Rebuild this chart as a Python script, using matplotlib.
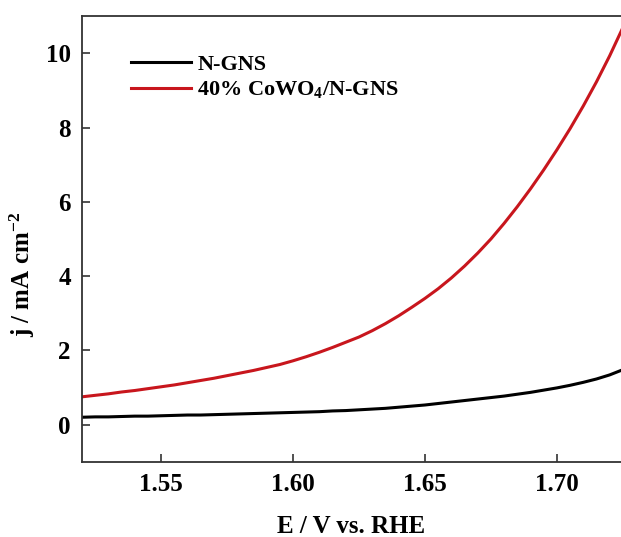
import numpy as np
import matplotlib
matplotlib.use("Agg")
import matplotlib.pyplot as plt

plt.rcParams['font.family'] = ['Liberation Serif', 'DejaVu Serif']
plt.rcParams['font.weight'] = 'bold'
plt.rcParams['mathtext.fontset'] = 'custom'
plt.rcParams['mathtext.rm'] = 'Liberation Serif:bold'
plt.rcParams['mathtext.it'] = 'Liberation Serif:bold'
plt.rcParams['mathtext.bf'] = 'Liberation Serif:bold'

# potential (V vs. RHE)
E = [1.520, 1.525, 1.530, 1.535, 1.540, 1.545, 1.550, 1.555, 1.560, 1.565,
     1.570, 1.575, 1.580, 1.585, 1.590, 1.595, 1.600, 1.605, 1.610, 1.615,
     1.620, 1.625, 1.630, 1.635, 1.640, 1.645, 1.650, 1.655, 1.660, 1.665,
     1.670, 1.675, 1.680, 1.685, 1.690, 1.695, 1.700, 1.705, 1.710, 1.715,
     1.720, 1.725]

# current density (mA cm-2)
j_ngns = [0.20, 0.21, 0.21, 0.22, 0.23, 0.23, 0.24, 0.25, 0.26, 0.26,
          0.27, 0.28, 0.29, 0.30, 0.31, 0.32, 0.33, 0.34, 0.35, 0.37,
          0.38, 0.40, 0.42, 0.44, 0.47, 0.50, 0.53, 0.57, 0.61, 0.65,
          0.69, 0.73, 0.77, 0.82, 0.87, 0.93, 0.99, 1.06, 1.14, 1.23,
          1.34, 1.48]
j_cowo4 = [0.75, 0.79, 0.83, 0.88, 0.92, 0.97, 1.02, 1.07, 1.13, 1.19,
           1.25, 1.32, 1.39, 1.46, 1.54, 1.62, 1.72, 1.83, 1.95, 2.08,
           2.22, 2.36, 2.53, 2.72, 2.93, 3.16, 3.40, 3.66, 3.95, 4.27,
           4.62, 5.00, 5.42, 5.87, 6.35, 6.86, 7.40, 7.97, 8.58, 9.23,
           9.93, 10.69]

fig = plt.figure(figsize=(6.21, 5.37), dpi=100)
ax = fig.add_axes([0.132, 0.14, 0.868, 0.83])

ax.plot(E, j_ngns, color='black', lw=2.2, label='N-GNS')
ax.plot(E, j_cowo4, color='#c8161d', lw=2.2, label='40% CoWO$_4$/N-GNS')

ax.set_xlim(1.52, 1.7243)
ax.set_ylim(-1, 11)
ax.set_xticks([1.55, 1.60, 1.65, 1.70])
ax.set_xticklabels(['1.55', '1.60', '1.65', '1.70'])
ax.set_yticks([0, 2, 4, 6, 8, 10])

ax.spines['right'].set_visible(False)
for s in ['left', 'bottom', 'top']:
    ax.spines[s].set_linewidth(1.3)
    ax.spines[s].set_color('#333333')
ax.tick_params(direction='in', length=6, width=1.2, labelsize=18,
               colors='#333333', labelcolor='black', pad=8)

ax.set_xlabel('E / V vs. RHE', fontsize=18, fontweight='bold', labelpad=14)
ax.set_ylabel('j / mA cm$^{-2}$', fontsize=18, fontweight='bold')
ax.yaxis.set_label_coords(-0.083, 0.42)

ax.legend(loc='upper left', bbox_to_anchor=(0.053, 0.959), frameon=False,
          handlelength=2.7, handletextpad=0.3, labelspacing=0.2,
          prop={'weight': 'bold', 'size': 16})

fig.savefig('out.png', dpi=100)
